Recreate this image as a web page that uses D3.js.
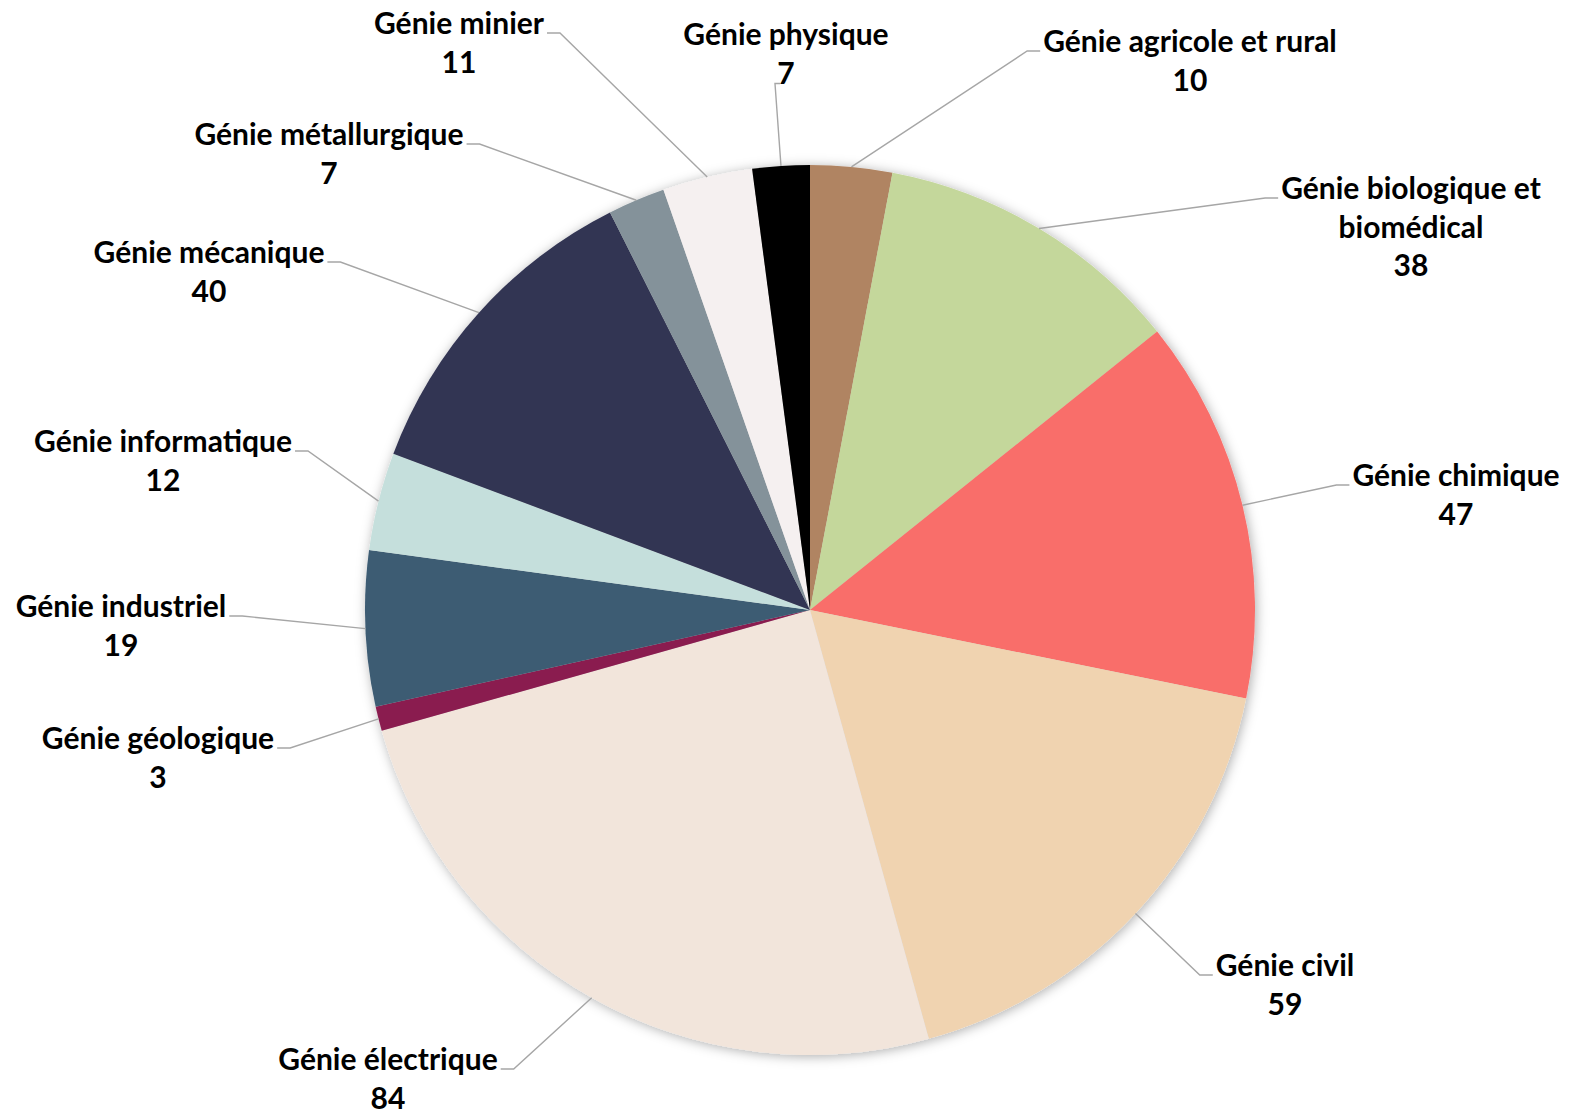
<!DOCTYPE html>
<html>
<head>
<meta charset="utf-8">
<script src="https://cdn.jsdelivr.net/npm/d3@7"></script>
<style>
  html, body { margin: 0; padding: 0; background: #fff; }
  svg { display: block; }
  text { font-family: Lato, "Open Sans", sans-serif; font-weight: 700; fill: #000; }
</style>
</head>
<body>
<svg id="chart" width="1580" height="1113"></svg>
<script>
// ---- data ----
const categories = [
  "Génie agricole et rural", "Génie biologique et biomédical", "Génie chimique",
  "Génie civil", "Génie électrique", "Génie géologique", "Génie industriel",
  "Génie informatique", "Génie mécanique", "Génie métallurgique",
  "Génie minier", "Génie physique"
];
const values = [10, 38, 47, 59, 84, 3, 19, 12, 40, 7, 11, 7];
const colors = [
  "#B08462", "#C4D79B", "#F96E6A", "#F0D3B0", "#F2E5DB", "#8A1B4F",
  "#3E5C73", "#C5DFDC", "#323452", "#84929A", "#F5F0F0", "#000000"
];
// label text lines (category name wrapped as in the reference)
const labelLines = [
  ["Génie agricole et rural"], ["Génie biologique et", "biomédical"], ["Génie chimique"],
  ["Génie civil"], ["Génie électrique"], ["Génie géologique"], ["Génie industriel"],
  ["Génie informatique"], ["Génie mécanique"], ["Génie métallurgique"],
  ["Génie minier"], ["Génie physique"]
];

// ---- layout (label placement: centre x, first-line y, attach side) ----
const labelLayout = [
  {x: 1190, y: 40, side: "right"},
  {x: 1411, y: 187, side: "right"},
  {x: 1456, y: 474, side: "right"},
  {x: 1285, y: 964, side: "right"},
  {x: 388, y: 1058, side: "left"},
  {x: 158, y: 737, side: "left"},
  {x: 121, y: 605, side: "left"},
  {x: 163, y: 440, side: "left"},
  {x: 209, y: 251, side: "left"},
  {x: 329, y: 133, side: "left"},
  {x: 459, y: 22, side: "left"},
  {x: 786, y: 33, side: "bottom"}
];

const cx = 810, cy = 610, R = 445;
const lineH = 38.5;
const fontSize = 30;

const svg = d3.select("#chart");
const defs = svg.append("defs");
const f = defs.append("filter").attr("id", "shadow")
  .attr("x", "-10%").attr("y", "-10%").attr("width", "120%").attr("height", "120%");
f.append("feDropShadow").attr("dx", 1.5).attr("dy", 1.5)
  .attr("stdDeviation", 6).attr("flood-color", "#000").attr("flood-opacity", 0.32);

const data = categories.map((c, i) => ({name: c, value: values[i], i}));
const pie = d3.pie().value(d => d.value).sort(null).startAngle(0).endAngle(2 * Math.PI);
const arcs = pie(data);
const arc = d3.arc().innerRadius(0).outerRadius(R);
const edgeArc = d3.arc().innerRadius(R).outerRadius(R);

const g = svg.append("g").attr("transform", `translate(${cx},${cy})`);
const slices = g.append("g").attr("filter", "url(#shadow)");
slices.selectAll("path").data(arcs).join("path")
  .attr("d", arc)
  .attr("fill", d => colors[d.data.i]);

// labels
const labG = svg.append("g");
const lineG = svg.append("g");
arcs.forEach(d => {
  const i = d.data.i;
  const L = labelLayout[i];
  const lines = labelLines[i].concat([String(values[i])]);
  const t = labG.append("text")
    .attr("text-anchor", "middle")
    .style("font-size", fontSize + "px");
  lines.forEach((s, k) => {
    t.append("tspan").attr("x", L.x).attr("y", L.y + k * lineH)
      .attr("dominant-baseline", "central").text(s);
  });
  let w = 0;
  t.selectAll("tspan").each(function() { w = Math.max(w, this.getComputedTextLength()); });
  const ep = edgeArc.centroid(d);
  const start = [cx + ep[0], cy + ep[1]];
  let end, elbow;
  if (L.side === "right") {
    end = [L.x - w / 2 - 3, L.y + 11];
    elbow = [end[0] - 13, end[1]];
  } else if (L.side === "left") {
    end = [L.x + w / 2 + 3, L.y + 11];
    elbow = [end[0] + 13, end[1]];
  } else {
    const bottom = L.y + (lines.length - 1) * lineH + 12;
    elbow = [start[0] - 6, bottom];
    end = [start[0] - 1, bottom];
  }
  lineG.append("path")
    .attr("d", d3.line()([start, elbow, end]))
    .attr("fill", "none")
    .attr("stroke", "#A6A6A6")
    .attr("stroke-width", 1.4);
});
</script>
</body>
</html>
